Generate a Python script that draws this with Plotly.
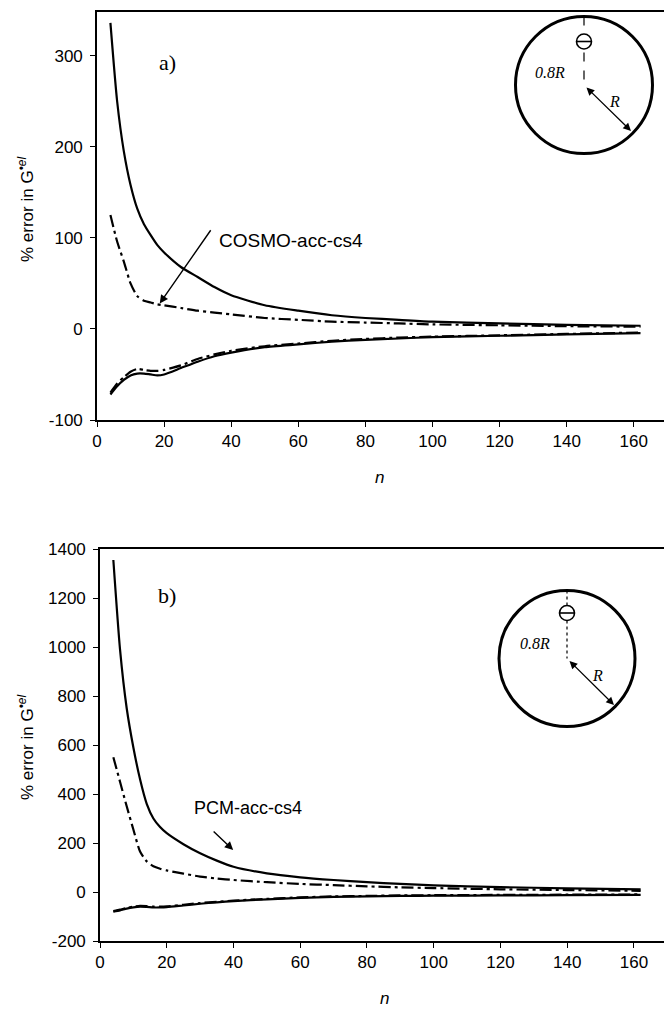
import plotly.graph_objects as go

# ---------------- data ----------------
n_vals = [4, 6, 8, 10, 12, 14, 16, 18, 20, 25, 30, 35, 40, 50, 60, 70, 80, 90, 100, 120, 140, 162]

# panel a) COSMO
a_solid_upper = [336, 250, 195, 158, 132, 115, 103, 92, 84, 68, 57, 46, 37, 26, 20, 15, 12, 10, 8, 6, 4.5, 3.5]
a_dash_upper = [125, 96, 74, 50, 36, 31, 29, 27, 26, 23, 20, 18, 16, 12, 10, 8, 7, 6, 5, 4, 3, 2.5]
a_solid_lower = [-72, -63, -56, -51, -49, -49, -50, -51, -50, -43, -36, -30, -26, -20, -17, -14, -12, -10.5, -9, -7.5, -6, -4.5]
a_dash_lower = [-70, -60, -53, -47, -44, -45, -46, -46, -45, -40, -33, -28, -24, -19, -16, -13, -11, -9.5, -8.5, -7, -5.5, -4]

# panel b) PCM
b_solid_upper = [1355, 990, 750, 590, 460, 360, 300, 265, 240, 195, 158, 128, 103, 76, 60, 49, 40, 33, 27, 20, 15, 11]
b_dash_upper = [550, 450, 350, 255, 165, 125, 105, 95, 88, 75, 63, 55, 49, 40, 33, 28, 23, 19, 16, 11, 8, 5]
b_solid_lower = [-80, -75, -68, -63, -60, -61, -63, -63, -62, -55, -48, -42, -37, -30, -24, -20, -18, -16, -15, -14, -13, -12]
b_dash_lower = [-78, -72, -65, -60, -57, -58, -60, -60, -59, -52, -45, -40, -35, -28, -22, -18, -16, -14, -13, -12, -11, -10]

x_ticks = [0, 20, 40, 60, 80, 100, 120, 140, 160]
a_y_ticks = [-100, 0, 100, 200, 300]
a_y_labels = ["-100", "0", "100", "200", "300"]
b_y_ticks = [-200, 0, 200, 400, 600, 800, 1000, 1200, 1400]
b_y_labels = ["-200", "0", "200", "400", "600", "800", "1000", "1200", "1400"]

W, H = 664, 1024
SANS = "Liberation Sans, Arial, sans-serif"
SERIF = "Liberation Serif, Times New Roman, serif"
DASHDOT = "12px,4px,3px,4px"


def px(x):
    return x / W


def py(y):
    return 1 - y / H


fig = go.Figure()


def add_line(x, y, xa, ya, dash):
    fig.add_trace(go.Scatter(
        x=x, y=y, xaxis=xa, yaxis=ya, mode="lines",
        line=dict(color="black", width=2.2, dash=dash, shape="spline", smoothing=0.6),
        showlegend=False, hoverinfo="skip"))


add_line(n_vals, a_solid_upper, "x", "y", "solid")
add_line(n_vals, a_dash_upper, "x", "y", DASHDOT)
add_line(n_vals, a_solid_lower, "x", "y", "solid")
add_line(n_vals, a_dash_lower, "x", "y", DASHDOT)
add_line(n_vals, b_solid_upper, "x2", "y2", "solid")
add_line(n_vals, b_dash_upper, "x2", "y2", DASHDOT)
add_line(n_vals, b_solid_lower, "x2", "y2", "solid")
add_line(n_vals, b_dash_lower, "x2", "y2", DASHDOT)

axis_common = dict(
    showgrid=False, zeroline=False, showline=True, linecolor="black", linewidth=1.6,
    ticks="outside", ticklen=5, tickwidth=1.2, tickcolor="black",
    tickfont=dict(family=SANS, size=17, color="black"), automargin=False,
)

fig.update_layout(
    width=W, height=H,
    margin=dict(l=0, r=0, t=0, b=0),
    paper_bgcolor="white", plot_bgcolor="white",
    showlegend=False,
    xaxis=dict(axis_common, domain=[px(97), 1], range=[0, 169], tickvals=x_ticks,
               mirror=True, anchor="y"),
    yaxis=dict(axis_common, domain=[py(420), py(12)], range=[-100, 348],
               tickvals=a_y_ticks, ticktext=a_y_labels, anchor="x", ticklabelstandoff=4),
    xaxis2=dict(axis_common, domain=[px(100), 1], range=[0, 169], tickvals=x_ticks,
                mirror=True, anchor="y2"),
    yaxis2=dict(axis_common, domain=[py(941), py(549)], range=[-200, 1400],
                tickvals=b_y_ticks, ticktext=b_y_labels, anchor="x2", ticklabelstandoff=4),
)

ann = []


def text_ann(x, y, text, family, size, angle=0):
    ann.append(dict(x=px(x), y=py(y), xref="paper", yref="paper", text=text,
                    textangle=angle, showarrow=False, xanchor="center", yanchor="middle",
                    font=dict(family=family, size=size, color="black")))


# axis titles
ytitle = "% error in G<sup>•<i>el</i></sup>"
text_ann(26, 210, ytitle, SANS, 17, -90)
text_ann(26, 748, ytitle, SANS, 17, -90)
text_ann(379, 477, "<i>n</i>", SANS, 17)
text_ann(384, 998, "<i>n</i>", SANS, 17)
# panel letters
text_ann(167, 62, "a)", SERIF, 22)
text_ann(167, 595, "b)", SERIF, 22)
# method labels
text_ann(291, 240, "COSMO-acc-cs4", SANS, 19)
text_ann(248, 808, "PCM-acc-cs4", SANS, 18)
# pointer arrows
ann.append(dict(x=18.7, y=28, xref="x", yref="y", ax=34.2, ay=110, axref="x", ayref="y",
                text="", showarrow=True, arrowhead=2, arrowsize=1.2, arrowwidth=1.4,
                arrowcolor="black"))
ann.append(dict(x=39.9, y=171, xref="x2", yref="y2", ax=33.6, ay=253, axref="x2", ayref="y2",
                text="", showarrow=True, arrowhead=2, arrowsize=1.2, arrowwidth=1.4,
                arrowcolor="black"))

shapes = []


def inset(cx, cy, r, qy, label_xy, r_xy, edge_xy, dash):
    shapes.append(dict(type="circle", xref="paper", yref="paper",
                       x0=px(cx - r), x1=px(cx + r), y0=py(cy + r), y1=py(cy - r),
                       line=dict(color="black", width=3)))
    shapes.append(dict(type="line", xref="paper", yref="paper",
                       x0=px(cx), x1=px(cx), y0=py(cy - r), y1=py(cy),
                       line=dict(color="black", width=1.2, dash=dash)))
    qr = 7.5
    shapes.append(dict(type="circle", xref="paper", yref="paper",
                       x0=px(cx - qr), x1=px(cx + qr), y0=py(qy + qr), y1=py(qy - qr),
                       fillcolor="white", line=dict(color="black", width=1.6)))
    shapes.append(dict(type="line", xref="paper", yref="paper",
                       x0=px(cx - qr), x1=px(cx + qr), y0=py(qy), y1=py(qy),
                       line=dict(color="black", width=1.6)))
    text_ann(label_xy[0], label_xy[1], "<i>0.8R</i>", SERIF, 16)
    text_ann(r_xy[0], r_xy[1], "<i>R</i>", SERIF, 16)
    ann.append(dict(x=px(edge_xy[0]), y=py(edge_xy[1]), xref="paper", yref="paper",
                    ax=cx + 1 - edge_xy[0], ay=cy + 1 - edge_xy[1],
                    text="", showarrow=True, arrowhead=2, startarrowhead=2,
                    arrowside="end+start", arrowsize=1.2, startarrowsize=1.2,
                    arrowwidth=1.3, arrowcolor="black"))


inset(584, 85, 68.5, 41.5, (550, 72), (614, 101), (631, 131), "dash")
inset(567, 658.5, 68, 613, (535, 643), (597, 675), (614, 705), "dot")

fig.update_layout(annotations=ann, shapes=shapes)

fig.write_html("out.html")
